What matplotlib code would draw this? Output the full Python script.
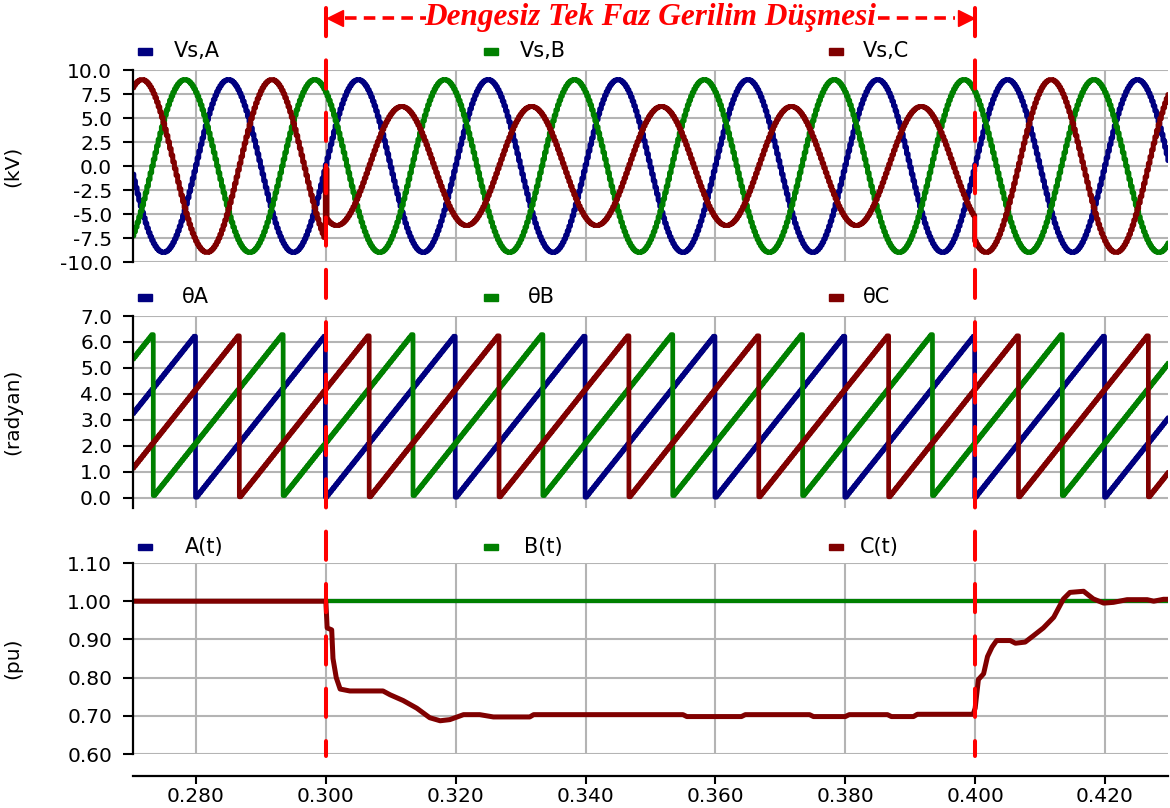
import numpy as np
import matplotlib
matplotlib.use("Agg")
import matplotlib.pyplot as plt
from matplotlib.lines import Line2D
from matplotlib.patches import Rectangle
from matplotlib.ticker import FormatStrFormatter
from matplotlib import transforms

# ---------------- data ----------------
X_MIN, X_MAX = 0.2703, 0.4297
X_TICKS = [0.28, 0.30, 0.32, 0.34, 0.36, 0.38, 0.40, 0.42]
SAG_START, SAG_END = 0.300, 0.400

FREQ_HZ = 50.0
SAMPLE_DT = 0.00025
PHASES = ["A", "B", "C"]
# time at which each phase angle theta resets to zero (rising zero crossing)
THETA_ZERO_TIME = [0.2800, 0.2733, 0.2867]
AMP_NORMAL_KV = [9.0, 9.0, 9.0]
AMP_SAG_KV = [9.0, 9.0, 6.2]
GLITCH_C_TIME = [0.3000]
GLITCH_C_KV = [-0.3]

V_LABELS = ["Vs,A", "Vs,B", "Vs,C"]
TH_LABELS = ["θA", "θB", "θC"]
PU_LABELS = ["A(t)", "B(t)", "C(t)"]

A_T = [0.2703, 0.4297]
A_PU = [1.0, 1.0]
B_T = [0.2703, 0.4297]
B_PU = [1.0, 1.0]
C_T = [0.2703, 0.3000, 0.3002, 0.3009, 0.3011, 0.3016, 0.3022, 0.3037, 0.3088,
       0.3099, 0.3119, 0.3140, 0.3160, 0.3176, 0.3191, 0.3212, 0.3237, 0.3258,
       0.3314, 0.3320, 0.3396, 0.3402, 0.3550, 0.3556, 0.3640, 0.3646, 0.3745,
       0.3751, 0.3800, 0.3806, 0.3865, 0.3871, 0.3905, 0.3911, 0.3997, 0.4000,
       0.4005, 0.4013, 0.4019, 0.4026, 0.4033, 0.4054, 0.4062, 0.4077, 0.4090,
       0.4105, 0.4121, 0.4136, 0.4146, 0.4167, 0.4182, 0.4198, 0.4213, 0.4234,
       0.4265, 0.4275, 0.4290, 0.4297]
C_PU = [1.000, 1.000, 0.930, 0.925, 0.850, 0.800, 0.770, 0.765, 0.765,
        0.755, 0.740, 0.720, 0.695, 0.687, 0.690, 0.703, 0.703, 0.697,
        0.697, 0.703, 0.703, 0.703, 0.703, 0.698, 0.698, 0.703, 0.703,
        0.698, 0.698, 0.703, 0.703, 0.698, 0.698, 0.704, 0.704, 0.720,
        0.795, 0.810, 0.855, 0.880, 0.897, 0.897, 0.890, 0.893, 0.910,
        0.930, 0.958, 1.006, 1.023, 1.026, 1.006, 0.995, 0.997, 1.004,
        1.004, 1.000, 1.005, 1.005]

TITLE = "Dengesiz Tek Faz Gerilim Düşmesi"
COLORS = ["#000080", "#008000", "#800000"]
RED = "#FF0000"
GRID = "#B4B4B4"

# ---------------- derived signals ----------------
period = 1.0 / FREQ_HZ
t = np.arange(X_MIN, X_MAX + SAMPLE_DT, SAMPLE_DT)
in_sag = (t >= SAG_START) & (t < SAG_END)
thetas, volts = [], []
for i in range(3):
    th = 2 * np.pi * (((t - THETA_ZERO_TIME[i]) / period) % 1.0)
    amp = np.where(in_sag, AMP_SAG_KV[i], AMP_NORMAL_KV[i])
    v = amp * np.sin(th)
    thetas.append(th)
    volts.append(v)
for gt, gv in zip(GLITCH_C_TIME, GLITCH_C_KV):
    k = int(np.argmin(np.abs(t - gt)))
    volts[2][k] = gv

# ---------------- figure ----------------
plt.rcParams["font.family"] = ["DejaVu Sans"]
FS = 14.5
W_PX, H_PX = 1170, 808
fig = plt.figure(figsize=(W_PX / 100, H_PX / 100), dpi=100)


def fy(px):
    return 1 - px / H_PX


L = 133 / W_PX
W = (1168 - 133) / W_PX
ax1 = fig.add_axes([L, fy(262), W, (262 - 70) / H_PX])
ax2 = fig.add_axes([L, fy(508), W, (508 - 316) / H_PX])
ax3 = fig.add_axes([L, fy(754), W, (754 - 563) / H_PX])
axes = [ax1, ax2, ax3]

for ax in axes:
    ax.set_xlim(X_MIN, X_MAX)
    ax.set_xticks(X_TICKS)
    for s in ["top", "right", "bottom"]:
        ax.spines[s].set_visible(False)
    ax.spines["left"].set_linewidth(1.6)
    ax.spines["left"].set_color("black")
    ax.grid(True, color=GRID, linewidth=1.5)
    ax.set_axisbelow(True)
    ax.tick_params(axis="y", length=7, width=1.5, pad=8, labelsize=FS)
    ax.tick_params(axis="x", length=0, labelbottom=False)

ax1.set_ylim(-10, 10)
ax1.set_yticks(np.arange(-10, 10.01, 2.5))
ax1.yaxis.set_major_formatter(FormatStrFormatter("%.1f"))
ax2.set_ylim(-0.4, 7.0)
ax2.set_yticks(np.arange(0, 7.01, 1.0))
ax2.yaxis.set_major_formatter(FormatStrFormatter("%.1f"))
ax3.set_ylim(0.6, 1.1)
ax3.set_yticks(np.arange(0.6, 1.101, 0.1))
ax3.yaxis.set_major_formatter(FormatStrFormatter("%.2f"))

ax3.spines["bottom"].set_visible(True)
ax3.spines["bottom"].set_position(("outward", 22 * 0.72))
ax3.spines["bottom"].set_linewidth(1.6)
ax3.tick_params(axis="x", length=6, width=1.5, pad=2, labelbottom=True, labelsize=FS)
ax3.xaxis.set_major_formatter(FormatStrFormatter("%.3f"))

for i in range(3):
    ax1.plot(t, volts[i], color=COLORS[i], lw=3.6, drawstyle="steps-mid")
    ax2.plot(t, thetas[i], color=COLORS[i], lw=3.4, drawstyle="steps-mid")
ax3.plot(A_T, A_PU, color=COLORS[0], lw=3.0)
ax3.plot(B_T, B_PU, color=COLORS[1], lw=3.0)
ax3.plot(C_T, C_PU, color=COLORS[2], lw=3.6)

ylabels = ["(kV)", "(radyan)", "(pu)"]
for ax, lab in zip(axes, ylabels):
    ax.set_ylabel(lab, fontsize=FS)
    ax.yaxis.set_label_coords((22 - 133) / (1168 - 133), 0.5)

# legends (manual row above each panel)
mark_x = [0.0048, 0.339, 0.672]
text_x = [[0.039, 0.374, 0.705], [0.047, 0.382, 0.705], [0.050, 0.378, 0.702]]
leg_y = [1 + 19 / 192, 1 + 19 / 192, 1 + 16 / 191]
for j, (ax, labs) in enumerate(zip(axes, [V_LABELS, TH_LABELS, PU_LABELS])):
    hpx = 192
    for i in range(3):
        ax.add_patch(Rectangle((mark_x[i], leg_y[j] - 3.5 / hpx), 14 / 1035, 7 / hpx,
                               transform=ax.transAxes, color=COLORS[i],
                               clip_on=False))
        ax.text(text_x[j][i], leg_y[j], labs[i], transform=ax.transAxes,
                fontsize=15, va="center", ha="left")

# event markers: red dashed verticals spanning the figure
trans = transforms.blended_transform_factory(ax3.transData, fig.transFigure)
for ev in [SAG_START, SAG_END]:
    fig.add_artist(Line2D([ev, ev], [fy(8), fy(756)], transform=trans, color=RED,
                          lw=2.9, linestyle=(0, (7.0, 6.0)),
                          dash_capstyle="round"))

# title with dashed double arrow
mid = 0.5 * (SAG_START + SAG_END)
fig.text(mid, fy(18), TITLE, transform=trans, ha="center", va="center",
         color=RED, fontsize=22.5, fontweight="bold", fontstyle="italic",
         family=["Liberation Serif", "DejaVu Serif"])
px_t = (SAG_END - SAG_START) / (975 - 326)
seg_left = [SAG_START + 19 * px_t, SAG_START + 100 * px_t]
seg_right = [SAG_END - 97 * px_t, SAG_END - 20 * px_t]
for seg in [seg_left, seg_right]:
    fig.add_artist(Line2D(seg, [fy(18), fy(18)], transform=trans, color=RED,
                          lw=2.6, linestyle=(0, (3.2, 2.0))))
fig.add_artist(Line2D([SAG_START + 9 * px_t], [fy(18)], transform=trans,
                      marker="<", markersize=11, color=RED, lw=0))
fig.add_artist(Line2D([SAG_END - 9 * px_t], [fy(18)], transform=trans,
                      marker=">", markersize=11, color=RED, lw=0))

fig.savefig("out.png", dpi=100)
